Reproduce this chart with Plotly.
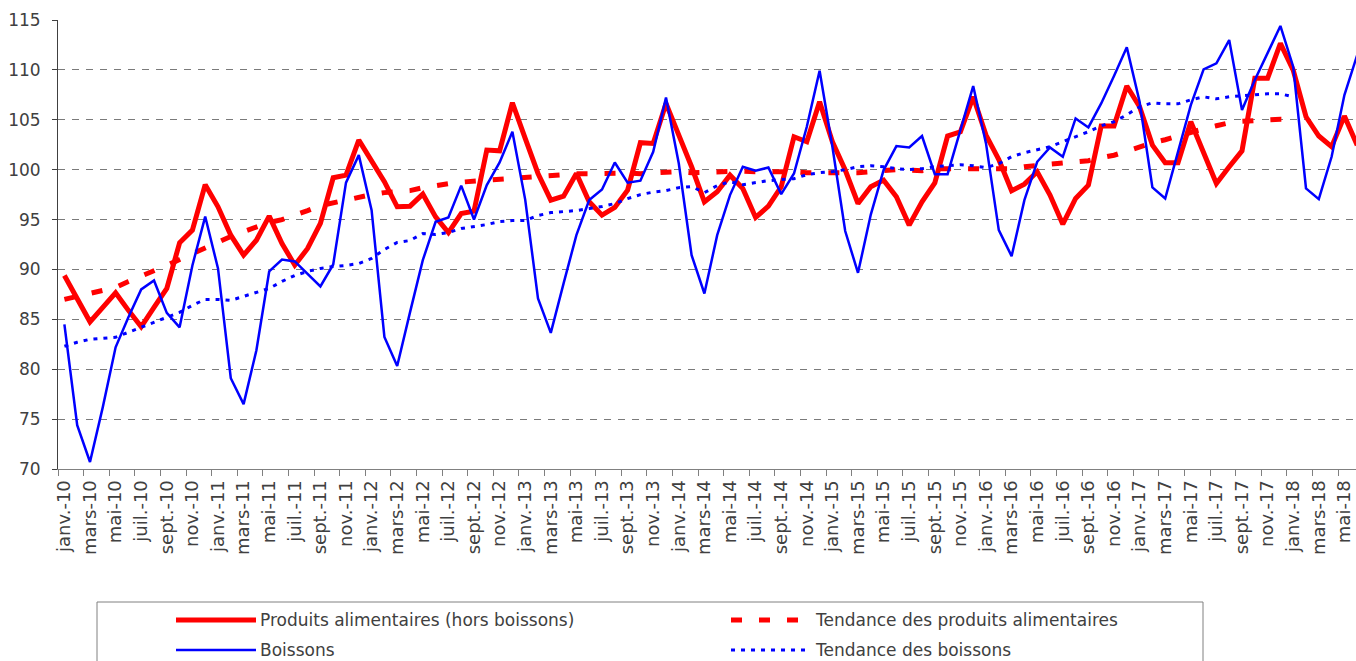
import plotly.graph_objects as go

# ---------------- data ----------------
month_names = ["janv.", "févr.", "mars", "avr.", "mai", "juin",
               "juil.", "août", "sept.", "oct.", "nov.", "déc."]
years = ["10", "11", "12", "13", "14", "15", "16", "17", "18"]
categories = [f"{m}-{y}" for y in years for m in month_names][:102]  # janv.-10 .. juin-18

food = [89.4, 87.0, 84.75, 86.2, 87.66, 85.9, 84.25, 86.2, 88.1, 92.67,
        93.94, 98.5, 96.28, 93.43, 91.43, 92.93, 95.34, 92.6, 90.43, 92.1,
        94.61, 99.19, 99.45, 102.96, 100.96, 98.8, 96.28, 96.34, 97.55, 95.27,
        93.7, 95.6, 95.84, 101.96, 101.89, 106.71, 103.13, 99.62, 96.95, 97.35,
        99.62, 96.78, 95.44, 96.21, 97.95, 102.7, 102.63, 106.64, 103.46, 100.29,
        96.78, 97.78, 99.45, 98.12, 95.21, 96.34, 98.28, 103.3, 102.8, 106.81,
        102.8, 99.96, 96.61, 98.28, 98.95, 97.28, 94.44, 96.78, 98.68, 103.37,
        103.8, 107.3, 103.46, 101.02, 97.88, 98.55, 99.79, 97.45, 94.54, 97.11,
        98.45, 104.37, 104.37, 108.38, 106.31, 102.46, 100.69, 100.69, 104.8, 101.79,
        98.62, 100.29, 101.89, 109.15, 109.15, 112.66, 109.98, 105.3, 103.37, 102.3,
        105.37, 102.46]

food_trend = [87.0, 87.3, 87.5, 87.8, 88.2, 88.8, 89.3, 89.9, 90.4, 91.0,
              91.6, 92.2, 92.7, 93.3, 93.8, 94.3, 94.7, 95.0, 95.4, 95.9,
              96.4, 96.7, 96.9, 97.2, 97.5, 97.7, 97.8, 97.9, 98.2, 98.45,
              98.6, 98.75, 98.85, 98.9, 99.0, 99.1, 99.3, 99.4, 99.5, 99.55,
              99.6, 99.6, 99.65, 99.7, 99.65, 99.6, 99.7, 99.8, 99.8, 99.7,
              99.75, 99.85, 99.9, 99.85, 99.8, 99.8, 99.85, 99.8, 99.7, 99.7,
              99.65, 99.6, 99.7, 99.8, 99.9, 100.0, 99.95, 99.9, 100.1, 100.1,
              100.1, 100.05, 100.0, 100.0, 100.1, 100.3, 100.4, 100.5, 100.6, 100.75,
              100.9, 101.2, 101.45, 101.85, 102.3, 102.7, 103.0, 103.4, 103.8, 104.1,
              104.4, 104.7, 104.85, 104.95, 105.0, 105.05, 105.05,
              None, None, None, None, None]

drinks = [84.5, 74.4, 70.7, 76.2, 82.2, 85.2, 88.0, 88.9, 85.65, 84.2,
          90.4, 95.3, 90.1, 79.1, 76.5, 81.9, 89.8, 91.0, 90.8, 89.5,
          88.3, 90.5, 98.7, 101.46, 95.94, 83.24, 80.33, 85.7, 90.93, 94.78,
          95.2, 98.4, 95.0, 98.45, 100.72, 103.8, 97.0, 87.1, 83.64, 88.6,
          93.44, 96.95, 98.02, 100.72, 98.69, 98.89, 101.79, 107.24, 100.62, 91.43,
          87.59, 93.44, 97.45, 100.29, 99.89, 100.22, 97.55, 99.62, 104.3, 109.92,
          102.3, 93.85, 89.66, 95.5, 99.96, 102.36, 102.23, 103.37, 99.55, 99.55,
          103.97, 108.38, 102.63, 93.94, 91.33, 96.95, 100.79, 102.23, 101.29, 105.14,
          104.23, 106.64, 109.38, 112.26, 106.81, 98.22, 97.11, 101.79, 106.47, 110.05,
          110.65, 112.99, 105.97, 108.98, 111.66, 114.4, 110.32, 98.12, 97.05, 101.29,
          107.48, 111.49]

drinks_trend = [82.3, 82.7, 83.0, 83.1, 83.2, 83.7, 84.2, 84.7, 85.2, 85.7,
                86.4, 87.0, 87.0, 86.9, 87.3, 87.7, 88.1, 88.8, 89.4, 89.8,
                90.1, 90.3, 90.4, 90.6, 91.1, 92.0, 92.7, 92.9, 93.6, 93.5,
                93.7, 94.1, 94.3, 94.5, 94.8, 94.9, 94.9, 95.4, 95.7, 95.8,
                95.9, 96.1, 96.3, 96.6, 97.1, 97.5, 97.75, 97.9, 98.2, 98.3,
                97.7, 98.4, 98.8, 98.5, 98.7, 98.9, 99.0, 99.1, 99.5, 99.7,
                99.8, 100.0, 100.3, 100.4, 100.3, 100.1, 100.0, 100.1, 100.3, 100.4,
                100.5, 100.4, 100.2, 100.6, 101.3, 101.7, 102.0, 102.3, 102.8, 103.3,
                103.8, 104.4, 104.8, 105.5, 106.3, 106.7, 106.6, 106.6, 107.0, 107.3,
                107.1, 107.3, 107.4, 107.5, 107.6, 107.6, 107.3,
                None, None, None, None, None]

series_names = ["Produits alimentaires (hors boissons)",
                "Tendance des produits alimentaires",
                "Boissons",
                "Tendance des boissons"]

y_ticks = [70, 75, 80, 85, 90, 95, 100, 105, 110, 115]

# ---------------- styles ----------------
W, H = 1356, 661
PLOT_LEFT, PLOT_TOP, PLOT_BOTTOM = 58, 20, 469
ML, MT, MR = PLOT_LEFT, PLOT_TOP, 0
MB = H - PLOT_BOTTOM
PW, PH = W - ML - MR, H - MT - MB
MONTH_PX = 12.8
X_MAX = -0.5 + PW / MONTH_PX

FONT = "DejaVu Sans"
TXT = "#404040"

RED = "#FF0000"
BLUE = "#0000FF"
styles = [
    dict(color=RED, width=5, dash="solid"),
    dict(color=RED, width=5, dash="11px,17px"),
    dict(color=BLUE, width=2.5, dash="solid"),
    dict(color=BLUE, width=3, dash="4px,6px"),
]
values = [food, food_trend, drinks, drinks_trend]

fig = go.Figure()
for name, vals, st in zip(series_names, values, styles):
    fig.add_trace(go.Scatter(x=categories, y=vals, mode="lines", name=name,
                             line=st, showlegend=False, connectgaps=False,
                             hoverinfo="skip"))

fig.update_xaxes(
    type="category", range=[-0.5, X_MAX], automargin=False,
    tickmode="linear", tick0=0, dtick=2, tickson="boundaries",
    ticks="outside", ticklen=6, tickcolor="#808080", tickwidth=1,
    showline=True, linecolor="#808080", linewidth=1,
    showgrid=False, zeroline=False,
    tickangle=-90, tickfont=dict(family=FONT, size=18, color=TXT),
    ticklabelstandoff=3,
)
fig.update_yaxes(
    range=[70, 115], automargin=False,
    tickmode="array", tickvals=y_ticks,
    ticktext=[str(v) for v in y_ticks],
    ticks="outside", ticklen=5, tickcolor="#404040", tickwidth=1,
    showline=True, linecolor="#404040", linewidth=1,
    showgrid=True, gridcolor="#7a7a7a", gridwidth=1, griddash="7px,7px",
    zeroline=False,
    tickfont=dict(family=FONT, size=17, color=TXT),
    ticklabelstandoff=8,
)

# ---------------- manual legend (window pixel positions) ----------------
def px_x(px):
    return (px - ML) / PW

def px_y(py):
    return (PLOT_BOTTOM - py) / PH

shapes = [dict(type="rect", xref="paper", yref="paper",
               x0=px_x(97), x1=px_x(1203), y0=px_y(602), y1=px_y(700),
               line=dict(color="#808080", width=1), fillcolor="rgba(0,0,0,0)")]
annotations = []
legend_pos = [(176, 620), (731, 620), (176, 650), (731, 650)]
for name, st, (lx, ly) in zip(series_names, styles, legend_pos):
    shapes.append(dict(type="line", xref="paper", yref="paper",
                       x0=px_x(lx), x1=px_x(lx + 80), y0=px_y(ly), y1=px_y(ly),
                       line=dict(color=st["color"], width=st["width"], dash=st["dash"])))
    annotations.append(dict(text=name, xref="paper", yref="paper",
                            x=px_x(lx + 82), y=px_y(ly), xanchor="left", yanchor="middle",
                            showarrow=False,
                            font=dict(family=FONT, size=17, color=TXT)))

fig.update_layout(
    width=W, height=H, autosize=False,
    margin=dict(l=ML, r=MR, t=MT, b=MB, pad=0),
    paper_bgcolor="white", plot_bgcolor="white",
    showlegend=False, shapes=shapes, annotations=annotations,
    hovermode=False,
)

# remove the browser's default page margin so the figure fills the window
fig.write_html("out.html",
               config={"displayModeBar": False},
               post_script="document.body.style.margin='0';"
                           "document.body.style.overflow='hidden';")
